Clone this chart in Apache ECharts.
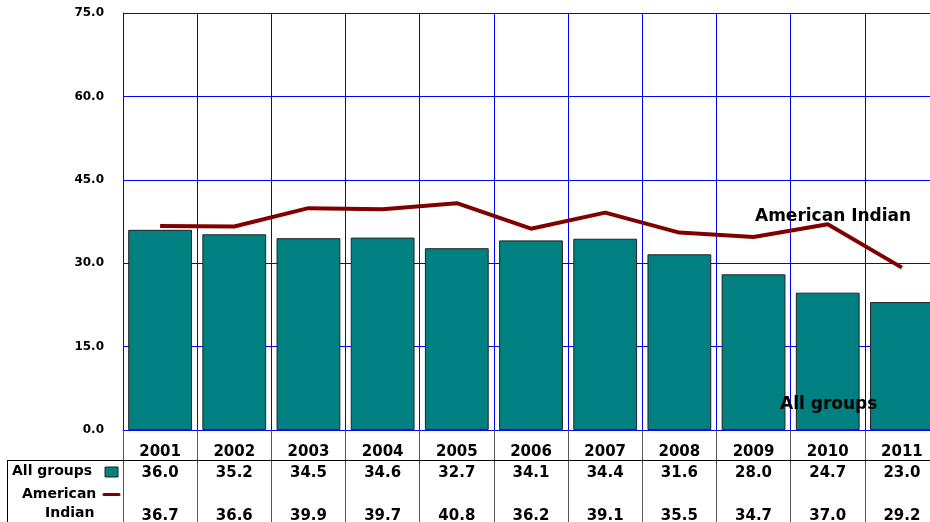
<!DOCTYPE html>
<html><head><meta charset="utf-8">
<script src="https://cdn.jsdelivr.net/npm/echarts@6/dist/echarts.min.js"></script>
<style>html,body{margin:0;padding:0;background:#fff;overflow:hidden;width:930px;height:522px}#c{width:940px;height:522px}</style>
</head><body><div id="c"></div>
<script>
const years = ['2001','2002','2003','2004','2005','2006','2007','2008','2009','2010','2011'];
const allGroups = [36.0,35.2,34.5,34.6,32.7,34.1,34.4,31.6,28.0,24.7,23.0];
const americanIndian = [36.7,36.6,39.9,39.7,40.8,36.2,39.1,35.5,34.7,37.0,29.2];
const yTicks = {min:0, max:75, interval:15};

const F = 'DejaVu Sans, Verdana, sans-serif';
const chart = echarts.init(document.getElementById('c'));
chart.setOption({
  animation:false,
  grid:{left:123, top:13, width:816, height:417, outerBoundsMode:'none'},
  xAxis:[
    {type:'category', data:years, position:'bottom',
     axisLine:{show:true, lineStyle:{color:'#0000ff', width:1}},
     axisTick:{show:true, length:92, lineStyle:{color:'#555', width:1}},
     splitLine:{show:true, lineStyle:{color:'#0000ff', width:1}},
     axisLabel:{margin:15, color:'#000', fontFamily:F, fontWeight:'bold', fontSize:15}},
    {type:'category', data:years, position:'bottom',
     axisLine:{show:false}, axisTick:{show:false},
     axisLabel:{margin:36, color:'#000', fontFamily:F, fontWeight:'bold', fontSize:15,
       formatter:(v,i)=>allGroups[i].toFixed(1)}},
    {type:'category', data:years, position:'bottom',
     axisLine:{show:false}, axisTick:{show:false},
     axisLabel:{margin:79, color:'#000', fontFamily:F, fontWeight:'bold', fontSize:15,
       formatter:(v,i)=>americanIndian[i].toFixed(1)}}
  ],
  yAxis:{type:'value', min:yTicks.min, max:yTicks.max, interval:yTicks.interval,
    axisLine:{show:true, lineStyle:{color:'#0000ff', width:1}},
    axisTick:{show:false},
    splitLine:{show:true, lineStyle:{color:'#0000ff', width:1}},
    axisLabel:{margin:19, color:'#000', fontFamily:F, fontWeight:'bold', fontSize:12,
      formatter:v=>v.toFixed(1)}},
  series:[
    {name:'All groups', type:'bar', data:allGroups, barCategoryGap:'14%',
     itemStyle:{color:'#008080', borderColor:'#222', borderWidth:1}},
    {name:'American Indian', type:'line', data:americanIndian, showSymbol:false, symbol:'none',
     lineStyle:{color:'#800000', width:4}, z:5}
  ],
  graphic:[
    {type:'line', z:100, shape:{x1:7,y1:460.5,x2:940,y2:460.5}, style:{stroke:'#000', lineWidth:1}},
    {type:'line', z:100, shape:{x1:7.5,y1:460,x2:7.5,y2:522}, style:{stroke:'#000', lineWidth:1}},
    {type:'text', z:100, left:12, top:464, style:{text:'All groups', font:'bold 14px '+F, fill:'#000'}},
    {type:'rect', z:100, shape:{x:105,y:467,width:13,height:10}, style:{fill:'#008080', stroke:'#222', lineWidth:1}},
    {type:'text', z:100, left:22, top:487, style:{text:'American', font:'bold 14px '+F, fill:'#000'}},
    {type:'line', z:100, shape:{x1:104,y1:494.5,x2:119,y2:494.5}, style:{stroke:'#800000', lineWidth:3, lineCap:'round'}},
    {type:'text', z:100, left:45, top:506, style:{text:'Indian', font:'bold 14px '+F, fill:'#000'}},
    {type:'text', z:100, left:755, top:208, style:{text:'American Indian', font:'bold 17px '+F, fill:'#000'}},
    {type:'text', z:100, left:780, top:396, style:{text:'All groups', font:'bold 17px '+F, fill:'#000'}}
  ]
});
</script></body></html>
